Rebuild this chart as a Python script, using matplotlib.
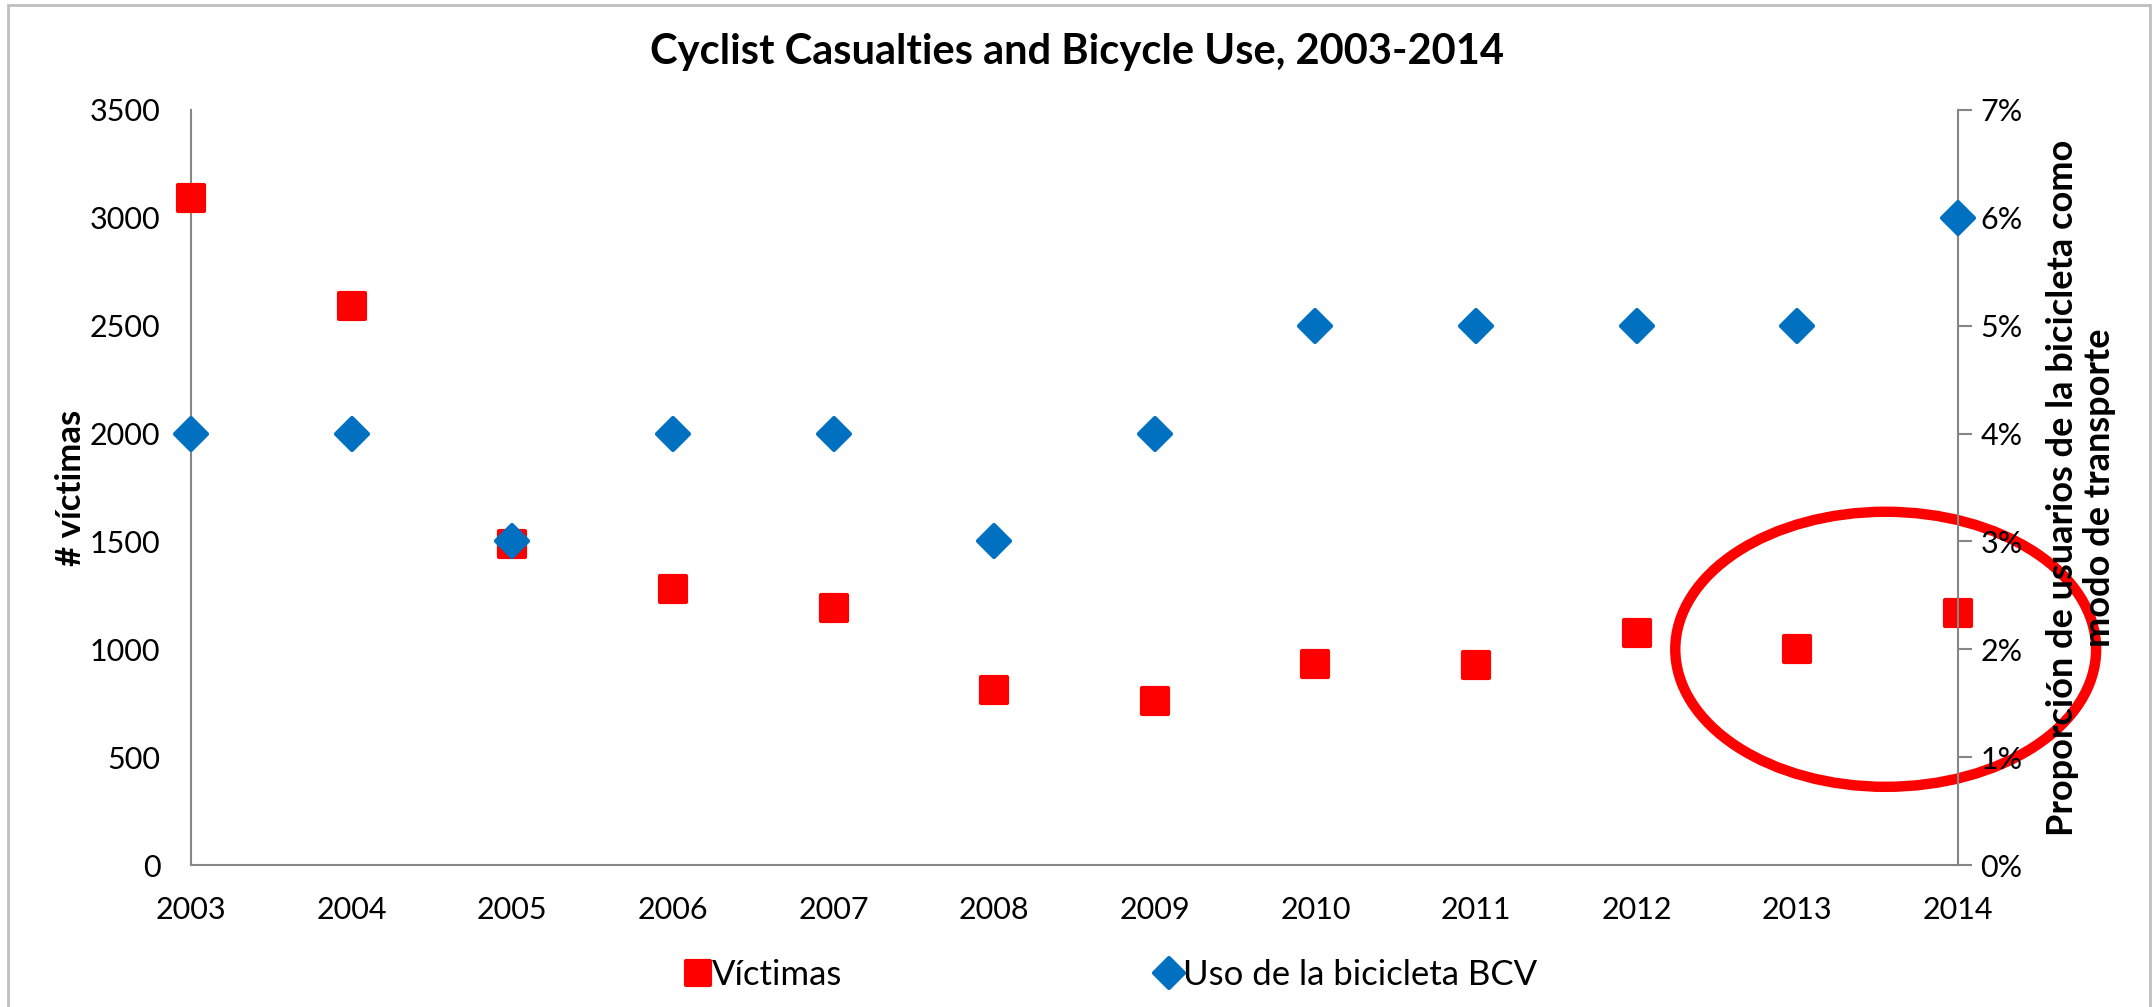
import matplotlib
matplotlib.use("Agg")
import matplotlib.pyplot as plt
from matplotlib.patches import Ellipse, Rectangle
from matplotlib.lines import Line2D
from matplotlib.markers import MarkerStyle
from matplotlib.ticker import FuncFormatter

years = [2003, 2004, 2005, 2006, 2007, 2008, 2009, 2010, 2011, 2012, 2013, 2014]
victimas = [3090, 2590, 1490, 1280, 1190, 810, 760, 930, 925, 1075, 1000, 1170]
uso_bcv = [4, 4, 3, 4, 4, 3, 4, 5, 5, 5, 5, 6]  # percent

title = "Cyclist Casualties and Bicycle Use, 2003-2014"
left_label = "# víctimas"
right_label = "Proporción de usuarios de la bicicleta como\nmodo de transporte"
legend_labels = ["Víctimas", "Uso de la bicicleta BCV"]

RED = "#FF0000"
BLUE = "#0070C0"
GRAY = "#868686"

plt.rcParams["font.family"] = ["Lato", "DejaVu Sans"]

SQ = MarkerStyle("s", joinstyle="round")
DI = MarkerStyle("D", joinstyle="round")

fig = plt.figure(figsize=(21.54, 10.07), dpi=100)
ax = fig.add_axes([0.0887, 0.141, 0.8203, 0.7498])
ax2 = ax.twinx()

ax.plot(years, victimas, linestyle="none", marker=SQ, markersize=19,
        markerfacecolor=RED, markeredgecolor=RED, markeredgewidth=3,
        clip_on=False, zorder=3)
ax2.plot(years, uso_bcv, linestyle="none", marker=DI, markersize=16.5,
         markerfacecolor=BLUE, markeredgecolor=BLUE, markeredgewidth=3,
         clip_on=False, zorder=3)

ax.set_xlim(2003, 2014)
ax.set_ylim(0, 3500)
ax2.set_ylim(0, 7)
ax.set_xticks(years)
ax.set_xticklabels([str(y) for y in years])
ax.set_yticks(range(0, 3501, 500))
ax2.set_yticks(range(0, 8))
ax2.yaxis.set_major_formatter(FuncFormatter(lambda v, p: f"{int(v)}%"))

for a in (ax, ax2):
    for s in a.spines.values():
        s.set_color(GRAY)
        s.set_linewidth(1.5)
    a.spines["top"].set_visible(False)
ax.spines["right"].set_visible(False)
ax2.spines["left"].set_visible(False)
ax2.spines["bottom"].set_visible(False)

ax.tick_params(axis="x", length=0, labelsize=22, pad=22)
ax.tick_params(axis="y", length=0, labelsize=22, pad=22)
ax2.tick_params(axis="y", length=10, width=1.5, color=GRAY, labelsize=22, pad=6, direction="out")

fig.text(0.5, 0.948, title, ha="center", va="center", fontsize=30, fontweight="bold")
ax.set_ylabel(left_label, fontsize=25, fontweight="bold", va="center", ha="center")
ax.yaxis.set_label_coords(-0.068, 0.5)
ax2.set_ylabel(right_label, fontsize=26, fontweight="bold", linespacing=1.15,
               va="center", ha="center", rotation=90)
ax2.yaxis.set_label_coords(1.0696, 0.5)

# highlight ellipse (annotation)
ell = Ellipse((2013.55, 1000), 2.62, 1275, fill=False, edgecolor=RED, linewidth=7.5,
              clip_on=False, zorder=5)
ax.add_patch(ell)

handles = [
    Line2D([], [], linestyle="none", marker=SQ, markersize=17, markerfacecolor=RED,
           markeredgecolor=RED, markeredgewidth=3),
    Line2D([], [], linestyle="none", marker=DI, markersize=15, markerfacecolor=BLUE,
           markeredgecolor=BLUE, markeredgewidth=3),
]
fig.legend(handles, legend_labels, loc="center left", bbox_to_anchor=(688 / 2154, 0.032),
           ncol=2, frameon=False, fontsize=25, handlelength=0.6, handletextpad=0.1,
           columnspacing=9.1, borderpad=0, borderaxespad=0)

fig.patches.append(Rectangle((8 / 2154, -0.05), (2150 - 8) / 2154, 1.05 - 5 / 1007,
                             transform=fig.transFigure, fill=False,
                             edgecolor="#BFBFBF", linewidth=2))

fig.savefig("out.png", dpi=100)
